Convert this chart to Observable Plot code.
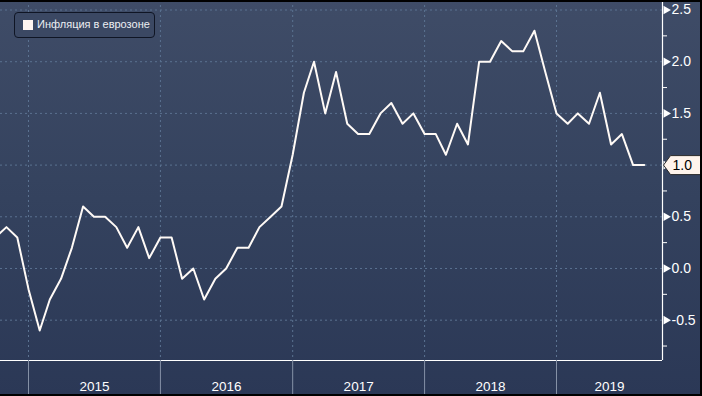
<!DOCTYPE html>
<html>
<head>
<meta charset="utf-8">
<script src="https://cdn.jsdelivr.net/npm/d3@7"></script>
<script src="https://cdn.jsdelivr.net/npm/@observablehq/plot@0.6"></script>
<style>
  html, body { margin: 0; padding: 0; background: #000; }
  #wrap { position: relative; width: 702px; height: 396px; overflow: hidden;
    background: linear-gradient(to bottom, #3f4c67 0%, #34425e 50%, #2b3856 100%); }
  #wrap svg { display: block; }
  #legend { position: absolute; left: 14px; top: 12px; width: 139px; height: 24px;
    border: 1px solid #0f1524; border-radius: 4px; background: #3b4863; }
  #legend .sw { position: absolute; left: 8px; top: 7px; width: 10px; height: 10px; background: #fff5f1; }
  #legend .tx { position: absolute; left: 22px; top: 4px; font: 11px "Liberation Sans", Arial, sans-serif;
    color: #eceef2; white-space: nowrap; line-height: 15px; }
  #border { position: absolute; inset: 0; box-sizing: border-box; pointer-events: none;
    border-top: 2px solid #000; border-right: 2px solid #000; border-bottom: 2px solid #000; }
</style>
</head>
<body>
<div id="wrap">
  <div id="chart"></div>
  <div id="legend"><div class="sw"></div><div class="tx">Инфляция в еврозоне</div></div>
  <div id="border"></div>
</div>
<script>
// Monthly euro-area inflation, % y/y, first month = Sep 2014
const seriesName = "Инфляция в еврозоне";
const startMonth = "2014-09";
const values = [
  0.3, 0.4, 0.3, -0.2,                                          // 2014 Sep–Dec
  -0.6, -0.3, -0.1, 0.2, 0.6, 0.5, 0.5, 0.4, 0.2, 0.4, 0.1, 0.3, // 2015
  0.3, -0.1, 0.0, -0.3, -0.1, 0.0, 0.2, 0.2, 0.4, 0.5, 0.6, 1.1, // 2016
  1.7, 2.0, 1.5, 1.9, 1.4, 1.3, 1.3, 1.5, 1.6, 1.4, 1.5, 1.3,    // 2017
  1.3, 1.1, 1.4, 1.2, 2.0, 2.0, 2.2, 2.1, 2.1, 2.3, 1.9, 1.5,    // 2018
  1.4, 1.5, 1.4, 1.7, 1.2, 1.3, 1.0, 1.0                         // 2019 Jan–Aug
];
const yearLabels = ["2015", "2016", "2017", "2018", "2019"];
const yMajorTicks = [-0.5, 0.0, 0.5, 1.0, 1.5, 2.0, 2.5];
const yMinorTicks = [-0.75, -0.25, 0.25, 0.75, 1.25, 1.75, 2.25];
const yDomain = [-0.89, 2.592];

// Each monthly value is plotted at the end of its month
const start = d3.utcParse("%Y-%m")(startMonth);
const data = values.map((v, i) => ({date: d3.utcMonth.offset(start, i + 1), value: v}));
const last = data[data.length - 1];

const YEAR = 365.25 * 864e5;
const yearStarts = yearLabels.map(y => new Date(Date.UTC(+y, 0, 1)));
const xMin = new Date(+yearStarts[0] - (28 / 132) * YEAR);
const xMax = new Date(+yearStarts[yearStarts.length - 1] + (106 / 132) * YEAR);
const quarterDates = d3.utcMonths(xMin, xMax, 3).filter(d => d.getUTCMonth() % 3 === 0 && d.getUTCMonth() !== 0);
const labelDates = yearStarts.map(d => {
  const end = Math.min(+d3.utcYear.offset(d, 1), +xMax);
  return new Date((+d + end) / 2);
});

const gridColor = "#5b7291";
const tagSymbol = {
  draw(ctx) {
    ctx.moveTo(0, 0); ctx.lineTo(7, -9.5); ctx.lineTo(44, -9.5);
    ctx.lineTo(44, 9.5); ctx.lineTo(7, 9.5); ctx.closePath();
  }
};

const chart = Plot.plot({
  width: 702, height: 396,
  marginLeft: 0, marginRight: 40, marginTop: 0, marginBottom: 36,
  style: {background: "transparent", color: "white", fontFamily: "'Liberation Sans', Arial, sans-serif", fontSize: "14px", overflow: "visible"},
  x: {type: "utc", domain: [xMin, xMax], label: null},
  y: {domain: yDomain, label: null},
  marks: [
    Plot.gridY(yMajorTicks, {stroke: gridColor, strokeOpacity: 1, strokeDasharray: "2,3"}),
    Plot.gridX(yearStarts, {stroke: gridColor, strokeOpacity: 1, strokeDasharray: "2,3"}),
    Plot.lineY(data, {x: "date", y: "value", stroke: "#fffaf6", strokeWidth: 2, clip: true}),
    Plot.ruleY([yDomain[0]], {stroke: "white", strokeWidth: 1.2}),
    Plot.ruleX([xMax], {stroke: "white", strokeWidth: 1.2}),
    Plot.axisX({ticks: quarterDates, tickSize: 4, tickFormat: () => "", stroke: "white", label: null}),
    Plot.axisX({ticks: yearStarts, tickSize: 36, tickFormat: () => "", stroke: "#8591a6", strokeOpacity: 1, label: null}),
    Plot.axisX({ticks: labelDates, tickSize: 0, tickPadding: 21, tickFormat: d => String(d.getUTCFullYear()), fill: "white", fontSize: 13.5, label: null}),
    Plot.axisY({anchor: "right", ticks: yMinorTicks, tickSize: 4, tickFormat: () => "", stroke: "white", label: null}),
    Plot.axisY({anchor: "right", ticks: yMajorTicks, tickSize: 0, tickPadding: 9, tickFormat: d => d.toFixed(1), fill: "white", fontSize: 14, label: null}),
    Plot.dot(yMajorTicks, {x: () => xMax, y: d => d, symbol: "triangle", rotate: 90, r: 3.2, fill: "white", stroke: null, dx: 3.5}),
    Plot.dot([last], {x: () => xMax, y: "value", symbol: tagSymbol, fill: "#fff4ec", stroke: "#2a2a2a", strokeWidth: 1, dx: 1}),
    Plot.text([last], {x: () => xMax, y: "value", text: d => d.value.toFixed(1), dx: 10, textAnchor: "start", fill: "#000", fontSize: 14})
  ]
});
document.getElementById("chart").append(chart);
</script>
</body>
</html>
